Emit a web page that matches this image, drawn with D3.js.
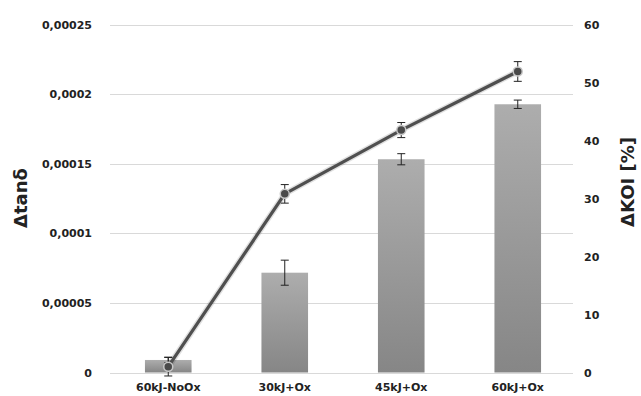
<!DOCTYPE html>
<html>
<head>
<meta charset="utf-8">
<script src="https://cdn.jsdelivr.net/npm/d3@7"></script>
<style>
  html, body { margin: 0; padding: 0; background: #fff; }
  svg { display: block; }
  text { font-family: "DejaVu Sans", sans-serif; font-weight: bold; fill: #222; }
</style>
</head>
<body>
<svg id="chart" width="641" height="396"></svg>
<script>
const categories = ["60kJ-NoOx", "30kJ+Ox", "45kJ+Ox", "60kJ+Ox"];
const tanValues = [0.000009, 0.0000717, 0.0001532, 0.0001927];
const tanErrors = [0.000002, 0.000009, 0.000004, 0.000003];
const koiValues = [1.0, 30.8, 41.8, 51.9];
const koiErrors = [1.6, 1.6, 1.3, 1.7];
const leftTicks = [0, 0.00005, 0.0001, 0.00015, 0.0002, 0.00025];
const leftTickLabels = ["0", "0,00005", "0,0001", "0,00015", "0,0002", "0,00025"];
const rightTicks = [0, 10, 20, 30, 40, 50, 60];

const svg = d3.select("#chart");
const pLeft = 110, pRight = 576, pTop = 24.5, pBottom = 372.5;

const x = d3.scaleBand().domain(categories).range([pLeft, pRight]).paddingInner(0.6).paddingOuter(0.3);
const yL = d3.scaleLinear().domain([0, 0.00025]).range([pBottom, pTop]);
const yR = d3.scaleLinear().domain([0, 60]).range([pBottom, pTop]);

const defs = svg.append("defs");
const grad = defs.append("linearGradient").attr("id", "barGrad")
  .attr("x1", 0).attr("y1", 0).attr("x2", 0).attr("y2", 1);
grad.append("stop").attr("offset", "0%").attr("stop-color", "#adadad");
grad.append("stop").attr("offset", "100%").attr("stop-color", "#868686");

// gridlines
svg.append("g").selectAll("path").data(leftTicks).join("path")
  .attr("d", d => `M${pLeft},${Math.round(yL(d)) + 0.5}H573`)
  .attr("fill", "none").attr("stroke", "#d9d9d9").attr("stroke-width", 1);

// left axis labels
const axL = d3.axisLeft(yL).tickValues(leftTicks).tickFormat((d, i) => leftTickLabels[i]).tickSize(0).tickPadding(0);
const gL = svg.append("g").attr("transform", "translate(92,0)").call(axL);
gL.selectAll(".domain, line").remove();
gL.selectAll("text").attr("font-size", 11).attr("font-family", "DejaVu Sans").attr("font-weight", "bold").attr("fill", "#222");

// right axis labels
const axR = d3.axisRight(yR).tickValues(rightTicks).tickSize(0).tickPadding(0);
const gR = svg.append("g").attr("transform", "translate(584,0)").call(axR);
gR.selectAll(".domain, line").remove();
gR.selectAll("text").attr("font-size", 11).attr("font-family", "DejaVu Sans").attr("font-weight", "bold").attr("fill", "#222");

// bars
svg.append("g").selectAll("rect").data(categories).join("rect")
  .attr("x", d => x(d)).attr("width", x.bandwidth())
  .attr("y", (d, i) => yL(tanValues[i])).attr("height", (d, i) => yL(0) - yL(tanValues[i]))
  .attr("fill", "url(#barGrad)");

// bar error bars
const eb = svg.append("g").attr("stroke", "#222").attr("stroke-width", 1);
categories.forEach((c, i) => {
  const cx = x(c) + x.bandwidth() / 2;
  const y1 = yL(tanValues[i] + tanErrors[i]), y2 = yL(tanValues[i] - tanErrors[i]);
  eb.append("path").attr("d", `M${cx},${y1}V${y2}M${cx - 4},${y1}H${cx + 4}M${cx - 4},${y2}H${cx + 4}`).attr("fill", "none");
});

// line: soft halo underneath, then main stroke
const line = d3.line().x((d, i) => x(categories[i]) + x.bandwidth() / 2).y(d => yR(d));
svg.append("path").datum(koiValues).attr("d", line)
  .attr("fill", "none").attr("stroke", "#000").attr("stroke-opacity", 0.12).attr("stroke-width", 6)
  .attr("stroke-linejoin", "round");
svg.append("path").datum(koiValues).attr("d", line)
  .attr("fill", "none").attr("stroke", "#4f4f4f").attr("stroke-width", 3.2).attr("stroke-linejoin", "round");

// line error bars
const el = svg.append("g").attr("stroke", "#222").attr("stroke-width", 1);
categories.forEach((c, i) => {
  const cx = x(c) + x.bandwidth() / 2;
  const y1 = yR(koiValues[i] + koiErrors[i]), y2 = yR(koiValues[i] - koiErrors[i]);
  el.append("path").attr("d", `M${cx},${y1}V${y2}M${cx - 4},${y1}H${cx + 4}M${cx - 4},${y2}H${cx + 4}`).attr("fill", "none");
});

// markers
svg.append("g").selectAll("circle").data(koiValues).join("circle")
  .attr("cx", (d, i) => x(categories[i]) + x.bandwidth() / 2)
  .attr("cy", d => yR(d)).attr("r", 4.5)
  .attr("fill", "#4a4a4a").attr("stroke", "#c8c8c8").attr("stroke-width", 1.5);

// category labels
svg.append("g").selectAll("text").data(categories).join("text")
  .attr("x", d => x(d) + x.bandwidth() / 2).attr("y", 391)
  .attr("text-anchor", "middle").attr("font-size", 11).text(d => d);

// axis titles
svg.append("text").attr("transform", "translate(27,198) rotate(-90)")
  .attr("text-anchor", "middle").attr("font-size", 18).text("Δtanδ");
svg.append("text").attr("transform", "translate(634,182) rotate(-90)")
  .attr("text-anchor", "middle").attr("font-size", 18).text("ΔKOI [%]");
</script>
</body>
</html>
